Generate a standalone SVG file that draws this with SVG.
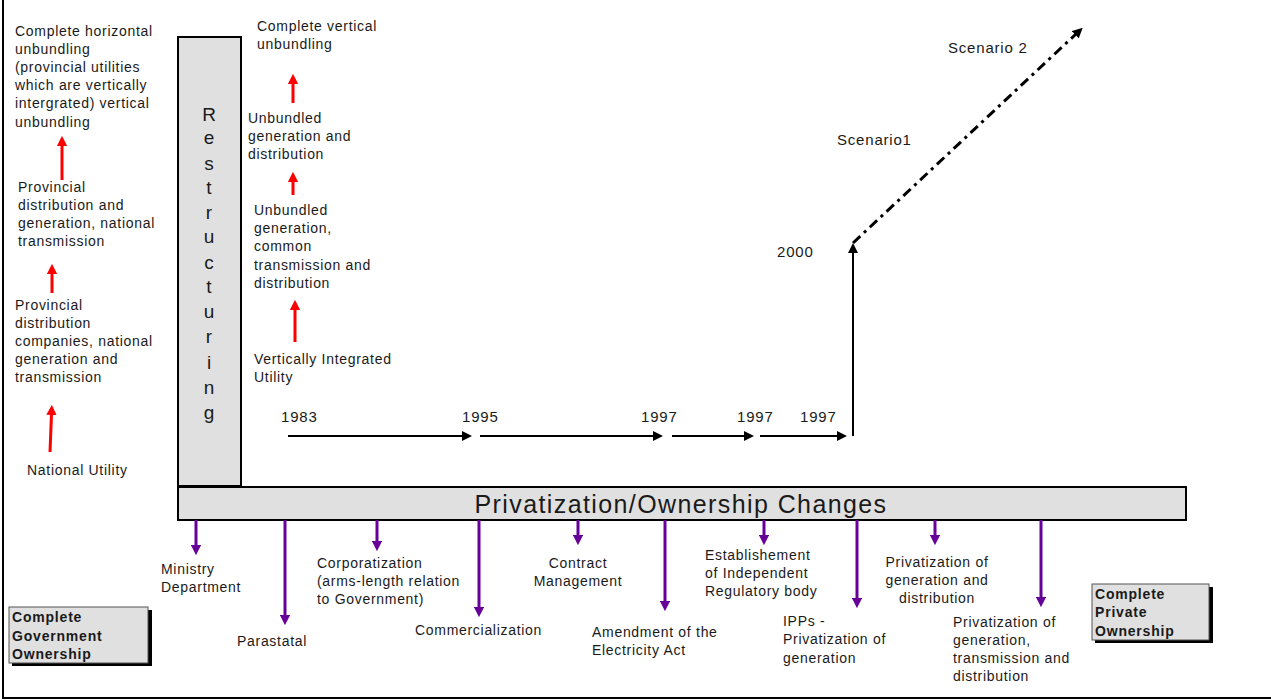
<svg xmlns="http://www.w3.org/2000/svg" width="1271" height="700" viewBox="0 0 1271 700">
<defs>
<style>
text{font-family:"Liberation Sans",Arial,sans-serif;font-size:14px;letter-spacing:0.7px;fill:#1a1a1a}
.bar{fill:#e0e0e0;stroke:#000;stroke-width:2}
.big{font-size:25px;letter-spacing:1.4px}
.rs{font-size:19px;letter-spacing:0;text-anchor:middle}
.yr{font-size:15px;letter-spacing:0.8px}
.bold{font-weight:bold;letter-spacing:0.8px}
.mid{text-anchor:middle}
.red{stroke:#ff0000;stroke-width:3;fill:none;marker-end:url(#hr)}
.blk{stroke:#000;stroke-width:2;fill:none;marker-end:url(#hb)}
.pur{stroke:#660099;stroke-width:3;fill:none;marker-end:url(#hp)}
</style>
<marker id="hr" viewBox="0 0 10 10" refX="1" refY="5" markerWidth="3.4" markerHeight="3.4" orient="auto" markerUnits="strokeWidth"><path d="M0,0L10,5L0,10z" fill="#ff0000"/></marker>
<marker id="hb" viewBox="0 0 10 10" refX="1" refY="5" markerWidth="5" markerHeight="5" orient="auto" markerUnits="strokeWidth"><path d="M0,0L10,5L0,10z" fill="#000"/></marker>
<marker id="hp" viewBox="0 0 10 10" refX="1" refY="5" markerWidth="3.4" markerHeight="3.4" orient="auto" markerUnits="strokeWidth"><path d="M0,0L10,5L0,10z" fill="#660099"/></marker>
<marker id="hd" viewBox="0 0 10 10" refX="1" refY="5" markerWidth="3.4" markerHeight="3.4" orient="auto" markerUnits="strokeWidth"><path d="M0,0L10,5L0,10z" fill="#000"/></marker>
</defs>
<rect width="1271" height="700" fill="#fff"/>
<g id="frame" stroke="#000" stroke-width="2"><line x1="3" y1="0" x2="3" y2="699"/><line x1="3" y1="698" x2="1271" y2="698"/></g>

<g id="restructuring">
<rect class="bar" x="178" y="37" width="63" height="449"/>
<text class="rs" x="209" y="121">R</text><text class="rs" x="209" y="144">e</text><text class="rs" x="209" y="170">s</text><text class="rs" x="209" y="194">t</text><text class="rs" x="209" y="219">r</text><text class="rs" x="209" y="243">u</text><text class="rs" x="209" y="269">c</text><text class="rs" x="209" y="293">t</text><text class="rs" x="209" y="318">u</text><text class="rs" x="209" y="343">r</text><text class="rs" x="209" y="369">i</text><text class="rs" x="209" y="394">n</text><text class="rs" x="209" y="419">g</text>
</g>

<g id="privatization">
<rect class="bar" x="178" y="487" width="1008" height="33"/>
<text class="big mid" x="681" y="513">Privatization/Ownership Changes</text>
</g>

<g id="h1"><text x="15" y="36">Complete horizontal</text><text x="15" y="54">unbundling</text><text x="15" y="72">(provincial utilities</text><text x="15" y="90">which are vertically</text><text x="15" y="108">intergrated) vertical</text><text x="15" y="127">unbundling</text></g>
<g id="h2"><text x="18" y="192">Provincial</text><text x="18" y="210">distribution and</text><text x="18" y="228">generation, national</text><text x="18" y="246">transmission</text></g>
<g id="h3"><text x="15" y="310">Provincial</text><text x="15" y="328">distribution</text><text x="15" y="346">companies, national</text><text x="15" y="364">generation and</text><text x="15" y="382">transmission</text></g>
<g id="h4"><text x="27" y="475">National Utility</text></g>

<g id="v1"><text x="257" y="31">Complete vertical</text><text x="257" y="49">unbundling</text></g>
<g id="v2"><text x="248" y="123">Unbundled</text><text x="248" y="141">generation and</text><text x="248" y="159">distribution</text></g>
<g id="v3"><text x="254" y="215">Unbundled</text><text x="254" y="233">generation,</text><text x="254" y="251">common</text><text x="254" y="270">transmission and</text><text x="254" y="288">distribution</text></g>
<g id="v4"><text x="254" y="364">Vertically Integrated</text><text x="254" y="382">Utility</text></g>

<g id="years"><text class="yr" x="281" y="422">1983</text><text class="yr" x="462" y="422">1995</text><text class="yr" x="641" y="422">1997</text><text class="yr" x="737" y="422">1997</text><text class="yr" x="800" y="422">1997</text><text class="yr" x="777" y="257">2000</text><text class="yr" x="837" y="145">Scenario1</text><text class="yr" x="948" y="53">Scenario 2</text></g>

<g id="p1"><text x="161" y="574">Ministry</text><text x="161" y="592">Department</text></g>
<g id="p2"><text x="237" y="646">Parastatal</text></g>
<g id="p3"><text x="317" y="568">Corporatization</text><text x="317" y="586">(arms-length relation</text><text x="317" y="604">to Government)</text></g>
<g id="p4"><text x="415" y="635">Commercialization</text></g>
<g id="p5"><text class="mid" x="578" y="568">Contract</text><text class="mid" x="578" y="586">Management</text></g>
<g id="p6"><text x="592" y="637">Amendment of the</text><text x="592" y="655">Electricity Act</text></g>
<g id="p7"><text x="705" y="560">Establishement</text><text x="705" y="578">of Independent</text><text x="705" y="596">Regulatory body</text></g>
<g id="p8"><text x="783" y="626">IPPs -</text><text x="783" y="644">Privatization of</text><text x="783" y="663">generation</text></g>
<g id="p9"><text class="mid" x="937" y="567">Privatization of</text><text class="mid" x="937" y="585">generation and</text><text class="mid" x="937" y="603">distribution</text></g>
<g id="p10"><text x="953" y="627">Privatization of</text><text x="953" y="645">generation,</text><text x="953" y="663">transmission and</text><text x="953" y="681">distribution</text></g>

<g id="gov">
<rect x="12" y="610" width="140" height="56" fill="#000"/>
<rect x="9" y="607" width="139" height="56" fill="#e0e0e0" stroke="#555" stroke-width="1"/>
<text class="bold" x="12" y="622">Complete</text><text class="bold" x="12" y="641">Government</text><text class="bold" x="12" y="659">Ownership</text>
</g>
<g id="priv">
<rect x="1095" y="587" width="118" height="56" fill="#000"/>
<rect x="1092" y="584" width="117" height="56" fill="#e0e0e0" stroke="#555" stroke-width="1"/>
<text class="bold" x="1095" y="599">Complete</text><text class="bold" x="1095" y="617">Private</text><text class="bold" x="1095" y="636">Ownership</text>
</g>

<g id="connectors">
<line class="red" x1="62" y1="180" x2="62" y2="145"/>
<line class="red" x1="52" y1="293" x2="52" y2="273"/>
<line class="red" x1="50" y1="452" x2="51.5" y2="414"/>
<line class="red" x1="293" y1="103" x2="293" y2="83"/>
<line class="red" x1="293" y1="195" x2="293" y2="181"/>
<line class="red" x1="295" y1="342" x2="295" y2="309"/>
<line class="blk" x1="288" y1="436" x2="463" y2="436"/>
<line class="blk" x1="480" y1="436" x2="654" y2="436"/>
<line class="blk" x1="672" y1="436" x2="745" y2="436"/>
<line class="blk" x1="760" y1="436" x2="838" y2="436"/>
<line class="blk" x1="853" y1="436" x2="853" y2="252"/>
<line x1="853" y1="243" x2="1076" y2="34" stroke="#000" stroke-width="3" stroke-dasharray="10,5,3,5" marker-end="url(#hd)"/>
<line class="pur" x1="196" y1="520" x2="196" y2="546"/>
<line class="pur" x1="285" y1="520" x2="285" y2="616"/>
<line class="pur" x1="377" y1="520" x2="377" y2="542"/>
<line class="pur" x1="479" y1="520" x2="479" y2="608"/>
<line class="pur" x1="578" y1="520" x2="578" y2="536"/>
<line class="pur" x1="665" y1="520" x2="665" y2="602"/>
<line class="pur" x1="764" y1="520" x2="764" y2="536"/>
<line class="pur" x1="857" y1="520" x2="857" y2="599"/>
<line class="pur" x1="935" y1="520" x2="935" y2="536"/>
<line class="pur" x1="1041" y1="520" x2="1041" y2="598"/>
</g>
</svg>
